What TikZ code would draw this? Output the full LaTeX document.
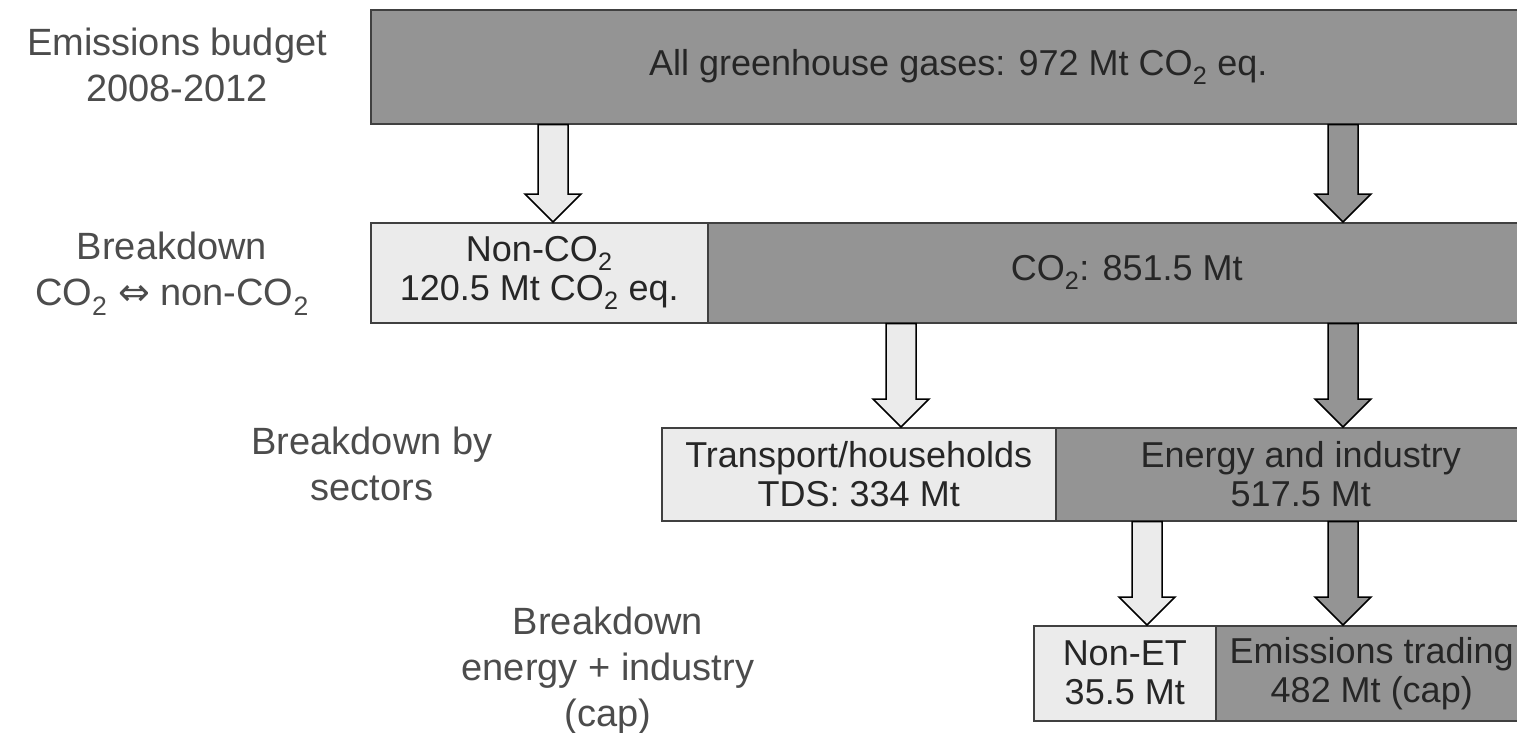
\documentclass[tikz,border=0pt]{standalone}
\usepackage{fontspec}
\setmainfont{Liberation Sans}
\newfontfamily\symfont{DejaVu Sans}
\usetikzlibrary{calc}
\newcommand\boxfont{\fontsize{36}{39}\selectfont}
\newcommand\labfont{\fontsize{38}{46}\selectfont}
\tikzset{
  box/.style={draw=black!75, line width=1.5pt, inner sep=0pt, align=center,
    font=\boxfont, text=black!85, anchor=north west},
  darkbox/.style={box, fill=black!42},
  lightbox/.style={box, fill=black!8},
  lab/.style={align=center, font=\labfont, text=black!70, inner sep=0pt, anchor=north},
  lightarrow/.style={draw=black, line width=1.5pt, fill=black!8},
  darkarrow/.style={draw=black, line width=1.5pt, fill=black!42},
}
\newcommand\blockarrow[3]{%
  \draw[#1] let \p1=(#2), \p2=(#3) in
    (\x1-15pt,\y1) -- (\x1-15pt,\y2+28pt) -- (\x1-28pt,\y2+28pt) -- (\x2,\y2)
    -- (\x1+28pt,\y2+28pt) -- (\x1+15pt,\y2+28pt) -- (\x1+15pt,\y1) -- cycle;}
\begin{document}
\begin{tikzpicture}[x=1pt,y=-1pt]
\useasboundingbox (0,0) rectangle (1517,732);
\clip (0,0) rectangle (1517,732);

% labels
\node[lab] (l1) at (177,28) {Emissions budget\\2008-2012};
\node[lab] (l2) at (172,232) {Breakdown\\CO\textsubscript{2} {\symfont ⇔} non-CO\textsubscript{2}};
\node[lab] (l3) at (372,427) {Breakdown by\\sectors};
\node[lab] (l4) at (608,607) {Breakdown\\energy + industry\\(cap)};

% boxes
\node[darkbox, minimum width=1175pt, minimum height=114pt] (b1) at (370,9)
  {All greenhouse gases: 972 Mt CO\textsubscript{2} eq.};
\node[lightbox, minimum width=337pt, minimum height=100pt] (b2l) at (370,222)
  {Non-CO\textsubscript{2}\\120.5 Mt CO\textsubscript{2} eq.};
\node[darkbox, minimum width=838pt, minimum height=100pt] (b2d) at (707,222)
  {CO\textsubscript{2}: 851.5 Mt};
\node[lightbox, minimum width=394pt, minimum height=93pt] (b3l) at (661,427)
  {Transport/households\\TDS: 334 Mt};
\node[darkbox, minimum width=490pt, minimum height=93pt] (b3d) at (1055,427)
  {Energy and industry\\517.5 Mt};
\node[lightbox, minimum width=182pt, minimum height=95pt] (b4l) at (1033,625)
  {Non-ET\\35.5 Mt};
\node[darkbox, minimum width=312pt, minimum height=95pt] (b4d) at (1215,625)
  {Emissions trading\\482 Mt (cap)};

% arrow axes
\coordinate (xa) at (553,0);
\coordinate (xb) at (1343,0);
\coordinate (xc) at (901,0);
\coordinate (xd) at (1147,0);

\blockarrow{lightarrow}{b1.south -| xa}{b2l.north -| xa}
\blockarrow{darkarrow}{b1.south -| xb}{b2d.north -| xb}
\blockarrow{lightarrow}{b2d.south -| xc}{b3l.north -| xc}
\blockarrow{darkarrow}{b2d.south -| xb}{b3d.north -| xb}
\blockarrow{lightarrow}{b3d.south -| xd}{b4l.north -| xd}
\blockarrow{darkarrow}{b3d.south -| xb}{b4d.north -| xb}
\end{tikzpicture}
\end{document}
